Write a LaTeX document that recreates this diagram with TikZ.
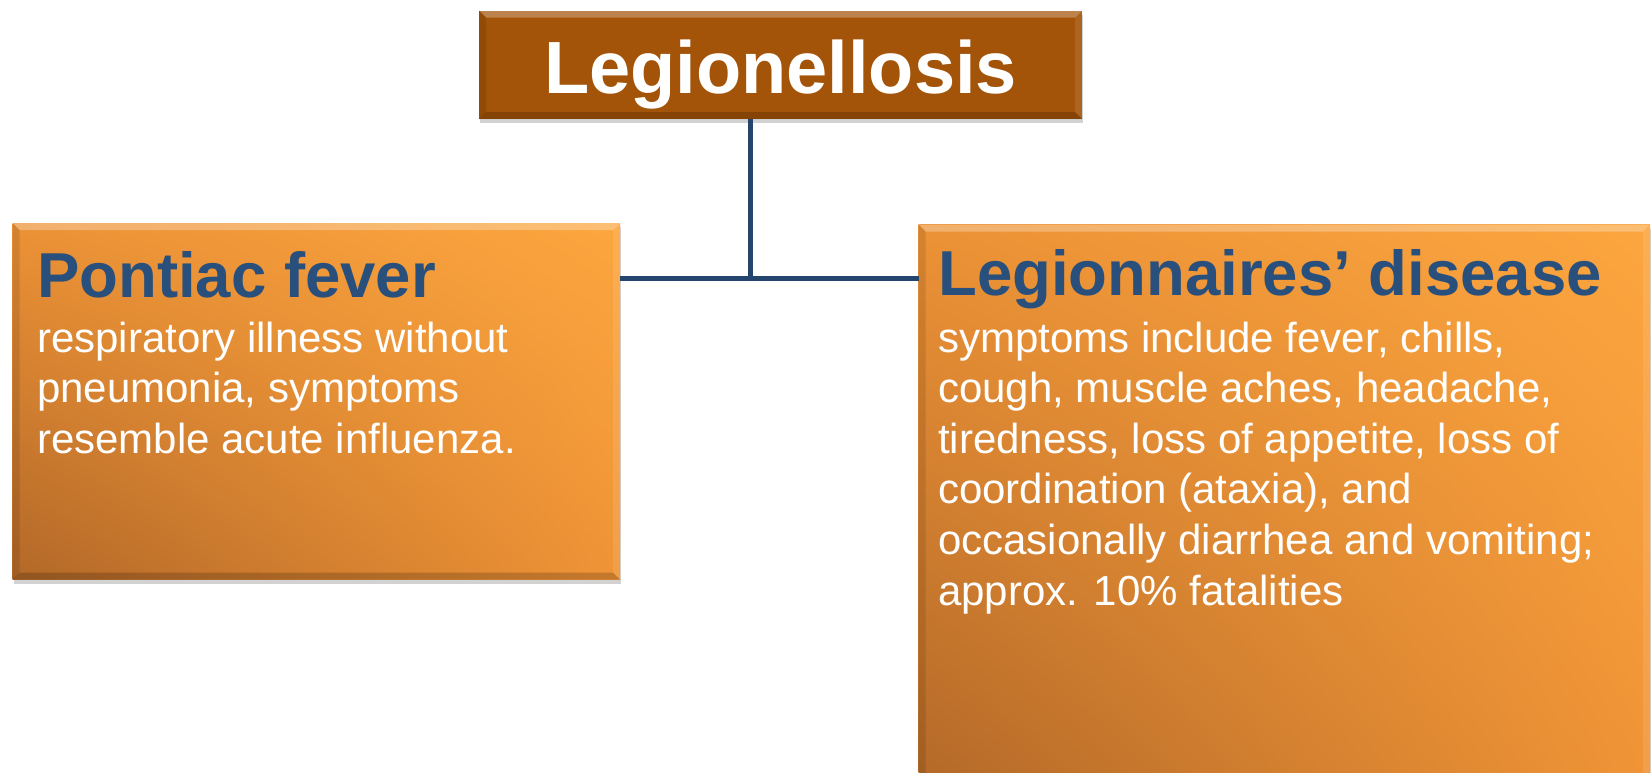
\documentclass[tikz,border=0pt]{standalone}
\usepackage{fontspec}
\setmainfont{Liberation Sans}
\usetikzlibrary{shadows,shadings,calc}
\definecolor{titlefill}{RGB}{163,84,8}
\definecolor{boxUR}{RGB}{252,166,63}
\definecolor{boxUL}{RGB}{236,146,54}
\definecolor{boxLR}{RGB}{240,148,54}
\definecolor{boxLL}{RGB}{178,104,40}
\definecolor{headblue}{RGB}{41,80,124}
\definecolor{linkblue}{RGB}{36,70,110}
\newcommand\boxbevel[1]{%
  \fill[white,opacity=0.28] (#1.north west) -- (#1.north east) -- ($(#1.north east)+(-7,7)$) -- ($(#1.north west)+(7,7)$) -- cycle;
  \fill[black,opacity=0.18] (#1.south west) -- (#1.south east) -- ($(#1.south east)+(-7,-7)$) -- ($(#1.south west)+(7,-7)$) -- cycle;
  \fill[black,opacity=0.10] (#1.north west) -- (#1.south west) -- ($(#1.south west)+(7,-7)$) -- ($(#1.north west)+(7,7)$) -- cycle;
  \fill[white,opacity=0.10] (#1.north east) -- (#1.south east) -- ($(#1.south east)+(-7,-7)$) -- ($(#1.north east)+(-7,7)$) -- cycle;
}
\begin{document}
\begin{tikzpicture}[x=1pt,y=-1pt,
  orangebox/.style={rectangle, inner sep=0pt, outer sep=0pt, anchor=north west,
    upper left=boxUL, upper right=boxUR, lower left=boxLL, lower right=boxLR,
    drop shadow={opacity=0.35, shadow xshift=1pt, shadow yshift=-4pt}},
  titlebox/.style={rectangle, inner sep=0pt, outer sep=0pt, anchor=north west, fill=titlefill,
    drop shadow={opacity=0.35, shadow xshift=1pt, shadow yshift=-4pt}},
  titletext/.style={inner sep=0pt, text=white, font=\bfseries\fontsize{74}{80}\selectfont},
  headtext/.style={inner sep=0pt, text=headblue, font=\bfseries\fontsize{63.5}{70}\selectfont},
  bodytext/.style={inner sep=0pt, text=white, align=left, font=\fontsize{42}{50.6}\selectfont},
  link/.style={draw=linkblue, line width=5pt}
]
\useasboundingbox (0,0) rectangle (1652,772);
\clip (0,0) rectangle (1652,772);
\fill[white] (0,0) rectangle (1652,772);

\node[titlebox, minimum width=603pt, minimum height=108.5pt] (title) at (479,10.5) {};
\node[orangebox, minimum width=607.4pt, minimum height=356.5pt] (left) at (12.6,223) {};
\node[orangebox, minimum width=731.5pt, minimum height=570pt] (right) at (918.5,224.5) {};
\boxbevel{title}
\boxbevel{left}
\boxbevel{right}

\coordinate (trunk) at (750,278);
\draw[link] (title.south -| trunk) -- (trunk);
\draw[link] (left.east |- trunk) -- (right.west |- trunk);

\node[titletext, anchor=base] (tt) at (780.5,93) {Legionellosis};
\node[headtext, anchor=base west] (ph) at (37,297) {Pontiac fever};
\node[headtext, anchor=base west] (lh) at (938,295) {Legionnaires’ disease};
\node[bodytext, anchor=base west] (pb) at (37,453.2) {respiratory illness without\\pneumonia, symptoms\\resemble acute influenza.};
\node[bodytext, anchor=base west] (lb) at (938,605) {symptoms include fever, chills,\\cough, muscle aches, headache,\\tiredness, loss of appetite, loss of\\coordination (ataxia), and\\occasionally diarrhea and vomiting;\\approx. 10\% fatalities};
\end{tikzpicture}
\end{document}
